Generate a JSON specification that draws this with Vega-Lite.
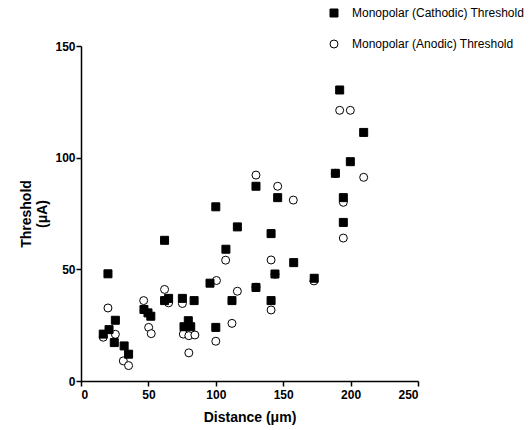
{
  "$schema": "https://vega.github.io/schema/vega-lite/v6.json",
  "autosize": "none",
  "width": 337,
  "height": 335,
  "padding": {"left": 81, "top": 46, "right": 111, "bottom": 49},
  "background": "white",
  "config": {
    "view": {"stroke": null},
    "font": "Liberation Sans",
    "axis": {
      "grid": false,
      "domainColor": "black",
      "domainWidth": 1.5,
      "tickColor": "black",
      "tickWidth": 1.5,
      "tickSize": 5,
      "labelColor": "black",
      "labelFont": "Liberation Sans",
      "labelFontWeight": "bold",
      "labelFontSize": 12,
      "titleColor": "black",
      "titleFont": "Liberation Sans",
      "titleFontWeight": "bold",
      "titleFontSize": 14
    }
  },
  "data": {
    "values": [
      {"series": "Monopolar (Anodic) Threshold", "distance": 16.5, "threshold": 19.6},
      {"series": "Monopolar (Anodic) Threshold", "distance": 20, "threshold": 32.7},
      {"series": "Monopolar (Anodic) Threshold", "distance": 25.5, "threshold": 20.9},
      {"series": "Monopolar (Anodic) Threshold", "distance": 31.4, "threshold": 9},
      {"series": "Monopolar (Anodic) Threshold", "distance": 35.3, "threshold": 6.9},
      {"series": "Monopolar (Anodic) Threshold", "distance": 46.5, "threshold": 36},
      {"series": "Monopolar (Anodic) Threshold", "distance": 50.2, "threshold": 24},
      {"series": "Monopolar (Anodic) Threshold", "distance": 52.1, "threshold": 21.2},
      {"series": "Monopolar (Anodic) Threshold", "distance": 62, "threshold": 41},
      {"series": "Monopolar (Anodic) Threshold", "distance": 65, "threshold": 35},
      {"series": "Monopolar (Anodic) Threshold", "distance": 75.2, "threshold": 34.7},
      {"series": "Monopolar (Anodic) Threshold", "distance": 75.9, "threshold": 21},
      {"series": "Monopolar (Anodic) Threshold", "distance": 80, "threshold": 20.3},
      {"series": "Monopolar (Anodic) Threshold", "distance": 84.5, "threshold": 20.6},
      {"series": "Monopolar (Anodic) Threshold", "distance": 80, "threshold": 12.6},
      {"series": "Monopolar (Anodic) Threshold", "distance": 100.5, "threshold": 45},
      {"series": "Monopolar (Anodic) Threshold", "distance": 100, "threshold": 17.8},
      {"series": "Monopolar (Anodic) Threshold", "distance": 107.3, "threshold": 54.1},
      {"series": "Monopolar (Anodic) Threshold", "distance": 112, "threshold": 25.8},
      {"series": "Monopolar (Anodic) Threshold", "distance": 116, "threshold": 40.2},
      {"series": "Monopolar (Anodic) Threshold", "distance": 129.8, "threshold": 92.2},
      {"series": "Monopolar (Anodic) Threshold", "distance": 129.8, "threshold": 42},
      {"series": "Monopolar (Anodic) Threshold", "distance": 141, "threshold": 54.2},
      {"series": "Monopolar (Anodic) Threshold", "distance": 141, "threshold": 31.8},
      {"series": "Monopolar (Anodic) Threshold", "distance": 143.9, "threshold": 47.8},
      {"series": "Monopolar (Anodic) Threshold", "distance": 145.9, "threshold": 87.2},
      {"series": "Monopolar (Anodic) Threshold", "distance": 157.5, "threshold": 81},
      {"series": "Monopolar (Anodic) Threshold", "distance": 172.8, "threshold": 44.8},
      {"series": "Monopolar (Anodic) Threshold", "distance": 188.7, "threshold": 93},
      {"series": "Monopolar (Anodic) Threshold", "distance": 191.9, "threshold": 121.2},
      {"series": "Monopolar (Anodic) Threshold", "distance": 199.8, "threshold": 121.2},
      {"series": "Monopolar (Anodic) Threshold", "distance": 194.6, "threshold": 80},
      {"series": "Monopolar (Anodic) Threshold", "distance": 194.6, "threshold": 64},
      {"series": "Monopolar (Anodic) Threshold", "distance": 209.7, "threshold": 91.2},
      {"series": "Monopolar (Cathodic) Threshold", "distance": 16.5, "threshold": 21},
      {"series": "Monopolar (Cathodic) Threshold", "distance": 20, "threshold": 48},
      {"series": "Monopolar (Cathodic) Threshold", "distance": 20.8, "threshold": 23},
      {"series": "Monopolar (Cathodic) Threshold", "distance": 25.5, "threshold": 27.2},
      {"series": "Monopolar (Cathodic) Threshold", "distance": 24.7, "threshold": 17.2},
      {"series": "Monopolar (Cathodic) Threshold", "distance": 32, "threshold": 15.7},
      {"series": "Monopolar (Cathodic) Threshold", "distance": 35.3, "threshold": 12},
      {"series": "Monopolar (Cathodic) Threshold", "distance": 46.7, "threshold": 32},
      {"series": "Monopolar (Cathodic) Threshold", "distance": 49.7, "threshold": 30.5},
      {"series": "Monopolar (Cathodic) Threshold", "distance": 51.8, "threshold": 29},
      {"series": "Monopolar (Cathodic) Threshold", "distance": 62, "threshold": 63},
      {"series": "Monopolar (Cathodic) Threshold", "distance": 62, "threshold": 36},
      {"series": "Monopolar (Cathodic) Threshold", "distance": 65, "threshold": 37},
      {"series": "Monopolar (Cathodic) Threshold", "distance": 75.2, "threshold": 37},
      {"series": "Monopolar (Cathodic) Threshold", "distance": 83.9, "threshold": 36},
      {"series": "Monopolar (Cathodic) Threshold", "distance": 79.6, "threshold": 27},
      {"series": "Monopolar (Cathodic) Threshold", "distance": 76.4, "threshold": 24.3},
      {"series": "Monopolar (Cathodic) Threshold", "distance": 81.4, "threshold": 24.3},
      {"series": "Monopolar (Cathodic) Threshold", "distance": 95.7, "threshold": 43.8},
      {"series": "Monopolar (Cathodic) Threshold", "distance": 100, "threshold": 24},
      {"series": "Monopolar (Cathodic) Threshold", "distance": 100, "threshold": 78},
      {"series": "Monopolar (Cathodic) Threshold", "distance": 107.5, "threshold": 59},
      {"series": "Monopolar (Cathodic) Threshold", "distance": 112, "threshold": 36},
      {"series": "Monopolar (Cathodic) Threshold", "distance": 116, "threshold": 69},
      {"series": "Monopolar (Cathodic) Threshold", "distance": 129.8, "threshold": 87.2},
      {"series": "Monopolar (Cathodic) Threshold", "distance": 129.8, "threshold": 41.9},
      {"series": "Monopolar (Cathodic) Threshold", "distance": 141, "threshold": 66},
      {"series": "Monopolar (Cathodic) Threshold", "distance": 141, "threshold": 36},
      {"series": "Monopolar (Cathodic) Threshold", "distance": 143.9, "threshold": 47.9},
      {"series": "Monopolar (Cathodic) Threshold", "distance": 145.9, "threshold": 82.1},
      {"series": "Monopolar (Cathodic) Threshold", "distance": 157.8, "threshold": 53},
      {"series": "Monopolar (Cathodic) Threshold", "distance": 173, "threshold": 46},
      {"series": "Monopolar (Cathodic) Threshold", "distance": 188.7, "threshold": 93},
      {"series": "Monopolar (Cathodic) Threshold", "distance": 191.9, "threshold": 130.3},
      {"series": "Monopolar (Cathodic) Threshold", "distance": 194.6, "threshold": 82.1},
      {"series": "Monopolar (Cathodic) Threshold", "distance": 194.6, "threshold": 71},
      {"series": "Monopolar (Cathodic) Threshold", "distance": 199.8, "threshold": 98.2},
      {"series": "Monopolar (Cathodic) Threshold", "distance": 209.7, "threshold": 111.3}
    ]
  },
  "mark": {"type": "point", "filled": true, "stroke": "black", "strokeWidth": 1, "opacity": 1, "size": 64},
  "encoding": {
    "x": {
      "field": "distance", "type": "quantitative",
      "scale": {"domain": [0, 250], "nice": false},
      "axis": {"values": [0, 50, 100, 150, 200, 250], "title": "Distance (μm)", "titlePadding": 10, "labelPadding": 3}
    },
    "y": {
      "field": "threshold", "type": "quantitative",
      "scale": {"domain": [0, 150], "nice": false},
      "axis": {"values": [0, 50, 100, 150], "title": ["Threshold", "(μA)"], "titlePadding": 5, "labelPadding": 1}
    },
    "shape": {
      "field": "series", "type": "nominal",
      "scale": {"domain": ["Monopolar (Cathodic) Threshold", "Monopolar (Anodic) Threshold"], "range": ["square", "circle"]},
      "legend": {
        "title": null, "orient": "none", "legendX": 247, "legendY": -39,
        "labelFont": "Liberation Sans", "labelFontSize": 12, "labelColor": "black", "labelLimit": 0,
        "symbolSize": 64, "symbolStrokeWidth": 1, "rowPadding": 19, "labelOffset": 12
      }
    },
    "fill": {
      "field": "series", "type": "nominal",
      "scale": {"domain": ["Monopolar (Cathodic) Threshold", "Monopolar (Anodic) Threshold"], "range": ["black", "white"]},
      "legend": {
        "title": null, "orient": "none", "legendX": 247, "legendY": -39,
        "labelFont": "Liberation Sans", "labelFontSize": 12, "labelColor": "black", "labelLimit": 0,
        "symbolSize": 64, "symbolStrokeWidth": 1, "rowPadding": 19, "labelOffset": 12
      }
    }
  }
}
